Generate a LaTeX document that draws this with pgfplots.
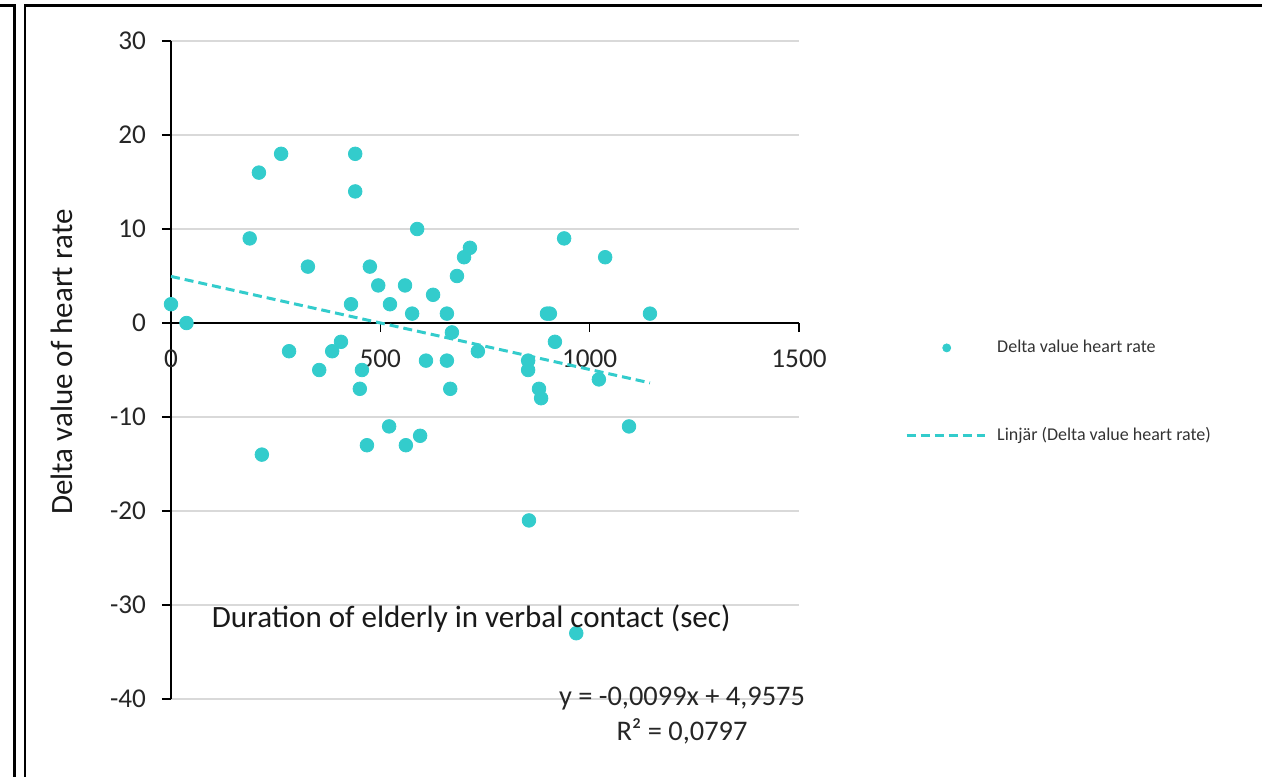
\documentclass[border=0pt]{standalone}
\usepackage{fontspec}
\setmainfont{Carlito}
\usepackage{pgfplots}
\pgfplotsset{compat=1.18}
\definecolor{turq}{RGB}{51,204,204}
\definecolor{gridgray}{RGB}{217,217,217}
\newcommand{\tickfont}{\fontsize{13.6}{16.3}\selectfont}
\newcommand{\labelfont}{\fontsize{15.5}{18.6}\selectfont}
\newcommand{\eqfont}{\fontsize{14.2}{17}\selectfont}
\pgfplotsset{
  dotlegend/.style={legend image code/.code={\draw[mark repeat=2, mark phase=2, ##1, mark size=2pt]
    plot coordinates {(0pt,0pt) (20pt,0pt) (39pt,0pt)};}},
  linelegend/.style={legend image code/.code={\draw[##1] (0pt,0pt) -- (39pt,0pt);}},
}
\begin{document}
\begin{tikzpicture}
\path[use as bounding box] (0,0) rectangle (631pt,-388pt);
% frame lines
\draw[line width=1.2pt] (0,-2.7pt) -- (7.3pt,-2.7pt) -- (7.3pt,-400pt);
\draw[line width=1.2pt] (12.4pt,-400pt) -- (12.4pt,-2.7pt) -- (640pt,-2.7pt);
\begin{axis}[
  at={(85.5pt,-349.5pt)}, anchor=south west,
  scale only axis, width=314pt, height=329pt,
  xmin=0, xmax=1500, ymin=-40, ymax=30,
  clip=false,
  axis x line=middle, axis y line=left,
  axis line style={-, line width=0.75pt, black},
  hide obscured x ticks=false, hide obscured y ticks=false,
  xtick={0,500,1000,1500}, ytick={-40,-30,...,30},
  tick align=outside, major tick length=4.5pt,
  tick style={black, line width=0.75pt},
  ymajorgrids, grid style={gridgray, line width=0.75pt},
  /pgf/number format/assume math mode=true,
  /pgf/number format/1000 sep={},
  tick label style={font=\tickfont, text=black!85},
  xticklabel style={yshift=-5.5pt},
  yticklabel style={xshift=-4.5pt},
  xlabel={Duration of elderly in verbal contact (sec)},
  xlabel style={at={(axis description cs:0.478,0.109)}, anchor=base, font=\labelfont, text=black!90},
  ylabel={Delta value of heart rate},
  ylabel style={at={(axis description cs:-0.1736,0.512)}, anchor=center, font=\labelfont, text=black!90},
  legend style={at={(axis description cs:1.1685,0.546)}, anchor=north west,
    draw=none, fill=none, font=\fontsize{9}{10.8}\selectfont, text=black!80,
    row sep=36pt, inner sep=0pt, nodes={inner sep=0pt}, column sep=5.5pt},
  legend cell align=left,
]
\addplot[only marks, mark=*, mark size=3.4pt, color=turq,
  mark options={draw=turq, fill=turq}, dotlegend]
coordinates {
(0,2) (37,0) (188,9) (210,16) (263,18) (217,-14) (282,-3) (327,6)
(354,-5) (385,-3) (406,-2) (430,2) (440,18) (440,14) (451,-7) (456,-5)
(468,-13) (475,6) (495,4) (521,-11) (523,2) (559,4) (561,-13) (576,1)
(588,10) (595,-12) (609,-4) (626,3) (659,1) (659,-4) (667,-7) (671,-1)
(683,5) (700,7) (714,8) (733,-3) (853,-4) (853,-5) (855,-21) (879,-7)
(884,-8) (898,1) (905,1) (917,-2) (939,9) (968,-33) (1022,-6) (1037,7)
(1094,-11) (1144,1)
};
\addlegendentry{Delta value heart rate}
% linear trend y = -0.0099x + 4.9575 over the data range
\addplot[turq, line width=1.5pt, dash pattern=on 4.5pt off 2.5pt, linelegend]
coordinates {(0,4.9575) (1144,-6.3681)};
\addlegendentry{Linjär (Delta value heart rate)}
\end{axis}
\node[anchor=base, font=\eqfont, text=black!85] at (341pt,-352.5pt) {y = -0,0099x + 4,9575};
\node[anchor=base, font=\eqfont, text=black!85] at (341pt,-370pt) {R² = 0,0797};
\end{tikzpicture}
\end{document}
